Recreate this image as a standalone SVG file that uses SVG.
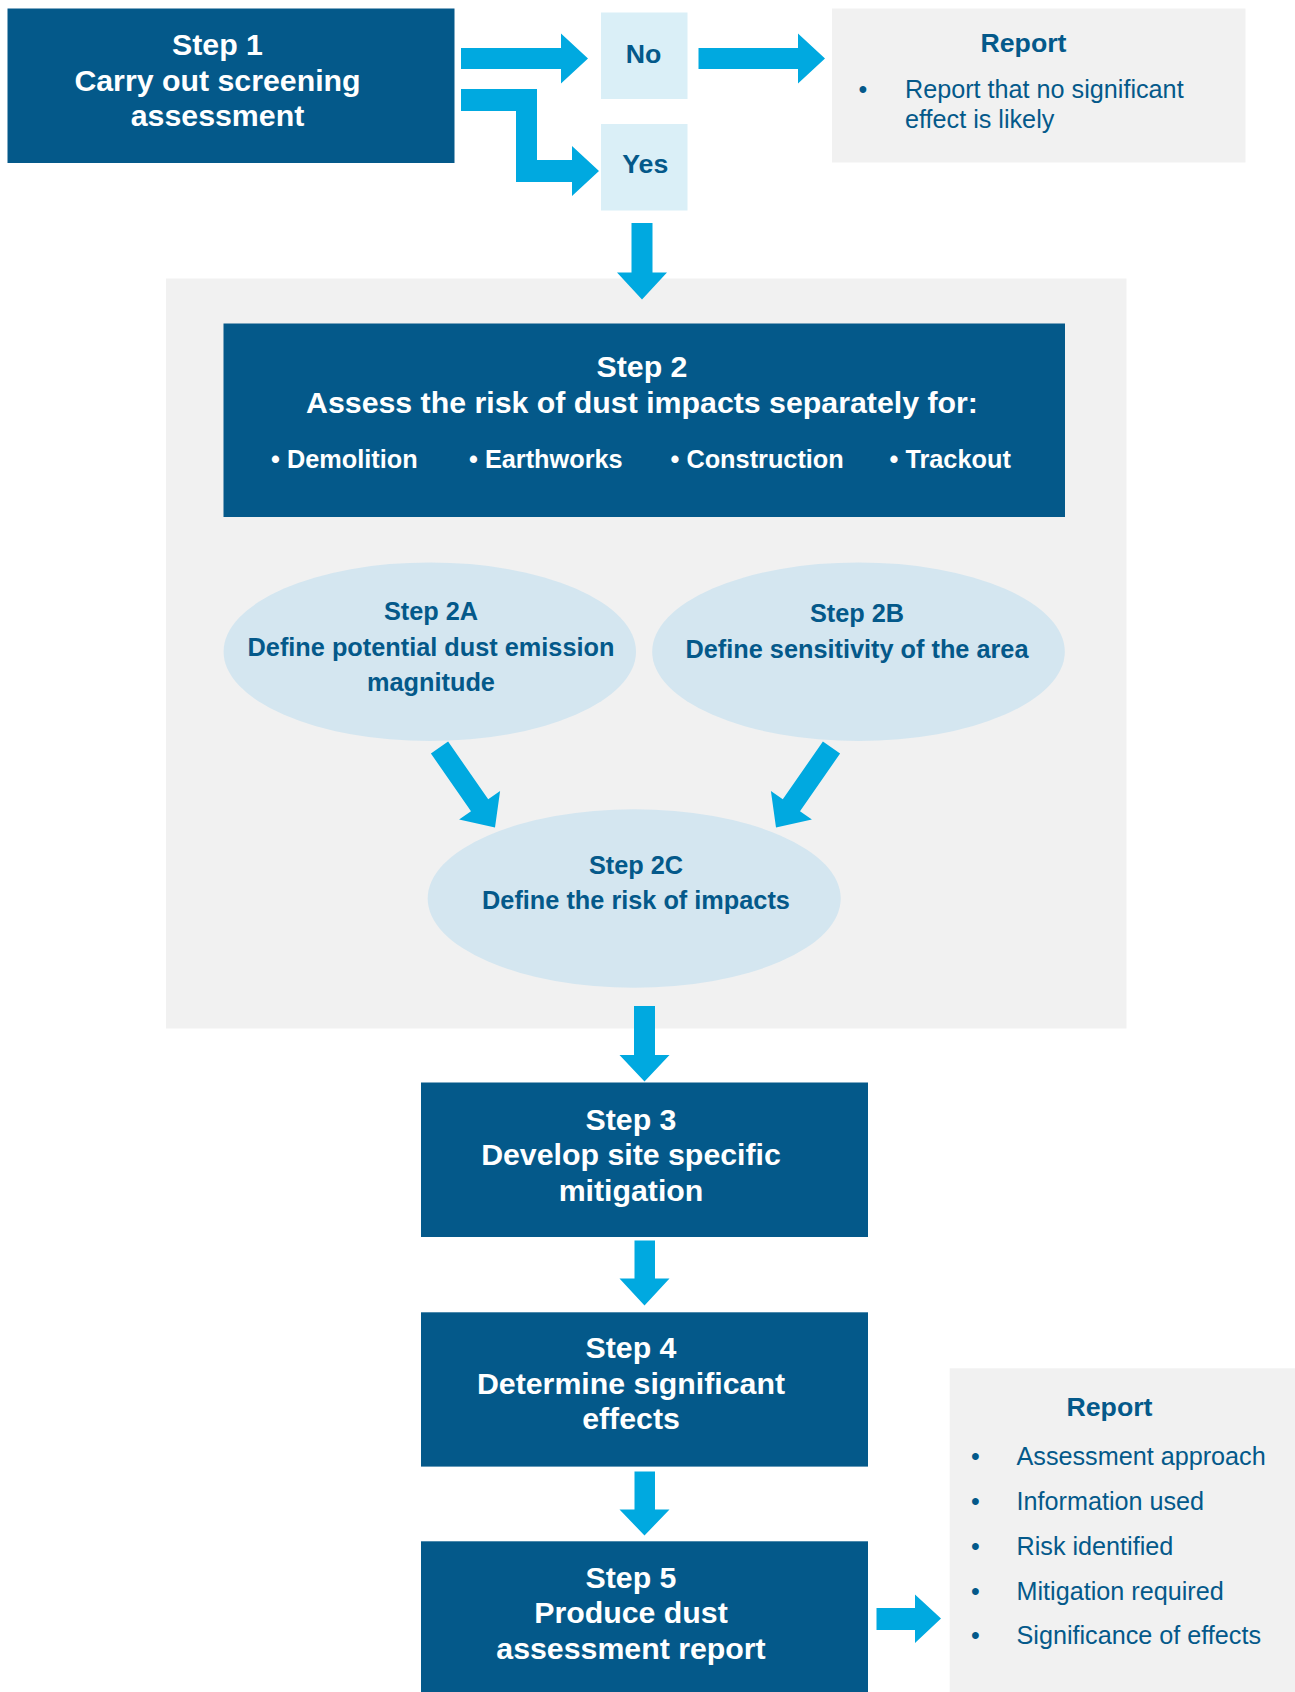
<svg xmlns="http://www.w3.org/2000/svg" width="1295" height="1692" viewBox="0 0 1295 1692">
<style>
text{font-family:"Liberation Sans",Arial,Helvetica,sans-serif}
.dark{fill:#04598A}
.pale{fill:#DAEFF7}
.grey{fill:#F1F1F1}
.ell{fill:#D4E6F0}
.arrow{fill:#00A9E0}
.w30{fill:#FFFFFF;font-size:30.3px;font-weight:bold;text-anchor:middle}
.w25{fill:#FFFFFF;font-size:25.3px;font-weight:bold}
.b25{fill:#04598A;font-size:25.3px;font-weight:bold;text-anchor:middle}
.b26{fill:#04598A;font-size:26.7px;font-weight:bold;text-anchor:middle}
.r25{fill:#04598A;font-size:25.2px}
.blt{fill:#04598A;font-size:25px;text-anchor:middle}
</style>
<rect x="0" y="0" width="1295" height="1692" fill="#FFFFFF"/>
<g id="stage2-area"><rect class="grey" x="166" y="278.5" width="960.5" height="750"/></g>
<g id="step1">
<rect class="dark" x="7.5" y="8.5" width="447" height="154.5"/>
<text class="w30" x="217.5" y="55">Step 1</text>
<text class="w30" x="217.5" y="90.5">Carry out screening</text>
<text class="w30" x="217.5" y="126">assessment</text>
</g>
<g id="no">
<rect class="pale" x="601" y="12.5" width="86.5" height="86.5"/>
<text class="b26" x="643.5" y="63.3">No</text>
</g>
<g id="yes">
<rect class="pale" x="601" y="124" width="86.5" height="86.5"/>
<text class="b26" x="645.3" y="172.7">Yes</text>
</g>
<g id="report-top">
<rect class="grey" x="832" y="8.5" width="413.5" height="154"/>
<text class="b26" x="1023.5" y="52.3">Report</text>
<text class="blt" x="863" y="98.3">•</text>
<text class="r25" x="905" y="98.3">Report that no significant</text>
<text class="r25" x="905" y="128.3">effect is likely</text>
</g>
<g id="step2">
<rect class="dark" x="223.5" y="323.5" width="841.5" height="193.5"/>
<text class="w30" x="642" y="377.3">Step 2</text>
<text class="w30" x="642" y="412.7">Assess the risk of dust impacts separately for:</text>
<text class="w25" x="271" y="468.3">• Demolition</text>
<text class="w25" x="469" y="468.3">• Earthworks</text>
<text class="w25" x="670.5" y="468.3">• Construction</text>
<text class="w25" x="889.5" y="468.3">• Trackout</text>
</g>
<g id="step2a">
<ellipse class="ell" cx="429.8" cy="651.7" rx="206.2" ry="89.3"/>
<text class="b25" x="431" y="620">Step 2A</text>
<text class="b25" x="431" y="655.7">Define potential dust emission</text>
<text class="b25" x="431" y="690.7">magnitude</text>
</g>
<g id="step2b">
<ellipse class="ell" cx="858.5" cy="651.7" rx="206.3" ry="89.3"/>
<text class="b25" x="857" y="622.3">Step 2B</text>
<text class="b25" x="857" y="658.3">Define sensitivity of the area</text>
</g>
<g id="step2c">
<ellipse class="ell" cx="634.2" cy="898.5" rx="206.5" ry="89.2"/>
<text class="b25" x="636" y="874">Step 2C</text>
<text class="b25" x="636" y="909.3">Define the risk of impacts</text>
</g>
<g id="step3">
<rect class="dark" x="421" y="1082.5" width="447" height="154.5"/>
<text class="w30" x="631" y="1130">Step 3</text>
<text class="w30" x="631" y="1165">Develop site specific</text>
<text class="w30" x="631" y="1201">mitigation</text>
</g>
<g id="step4">
<rect class="dark" x="421" y="1312.3" width="447" height="154.3"/>
<text class="w30" x="631" y="1358.3">Step 4</text>
<text class="w30" x="631" y="1394.2">Determine significant</text>
<text class="w30" x="631" y="1429.3">effects</text>
</g>
<g id="step5">
<rect class="dark" x="421" y="1541.3" width="447" height="160"/>
<text class="w30" x="631" y="1588.2">Step 5</text>
<text class="w30" x="631" y="1623.3">Produce dust</text>
<text class="w30" x="631" y="1659.2">assessment report</text>
</g>
<g id="report-bottom">
<rect class="grey" x="949.7" y="1368.3" width="350" height="330"/>
<text class="b26" x="1109.5" y="1415.7">Report</text>
<text class="blt" x="975.3" y="1465.2">•</text>
<text class="r25" x="1016.5" y="1465.2">Assessment approach</text>
<text class="blt" x="975.3" y="1510">•</text>
<text class="r25" x="1016.5" y="1510">Information used</text>
<text class="blt" x="975.3" y="1554.8">•</text>
<text class="r25" x="1016.5" y="1554.8">Risk identified</text>
<text class="blt" x="975.3" y="1599.6">•</text>
<text class="r25" x="1016.5" y="1599.6">Mitigation required</text>
<text class="blt" x="975.3" y="1644.4">•</text>
<text class="r25" x="1016.5" y="1644.4">Significance of effects</text>
</g>
<g id="connectors">
<polygon class="arrow" points="461,48 561,48 561,33.5 588,58.5 561,83.5 561,69 461,69"/>
<polygon class="arrow" points="698.5,48 798,48 798,33.5 825,58.5 798,83.5 798,69 698.5,69"/>
<polygon class="arrow" points="461,89 537,89 537,160 572,160 572,146 599,171 572,196 572,182 516,182 516,111 461,111"/>
<polygon class="arrow" points="631.5,223 652.5,223 652.5,272.5 667,272.5 642,299.5 617,272.5 631.5,272.5"/>
<polygon class="arrow" points="430.9,753.5 471,811.3 459.1,819.6 495,827.5 500.1,791.1 488.2,799.3 448.1,741.5"/>
<polygon class="arrow" points="840.1,753.5 800,811.3 811.9,819.6 776,827.5 770.9,791.1 782.8,799.3 822.9,741.5"/>
<polygon class="arrow" points="634,1006 655,1006 655,1055 669.5,1055 644.5,1081.5 619.5,1055 634,1055"/>
<polygon class="arrow" points="634.5,1240.5 655,1240.5 655,1278.5 669.5,1278.5 644.5,1305.5 619.5,1278.5 634.5,1278.5"/>
<polygon class="arrow" points="634.5,1471.5 655,1471.5 655,1509.5 669.5,1509.5 644.5,1535.5 619.5,1509.5 634.5,1509.5"/>
<polygon class="arrow" points="876.5,1608 915,1608 915,1594.5 941,1618.5 915,1643 915,1630 876.5,1630"/>
</g>
</svg>
